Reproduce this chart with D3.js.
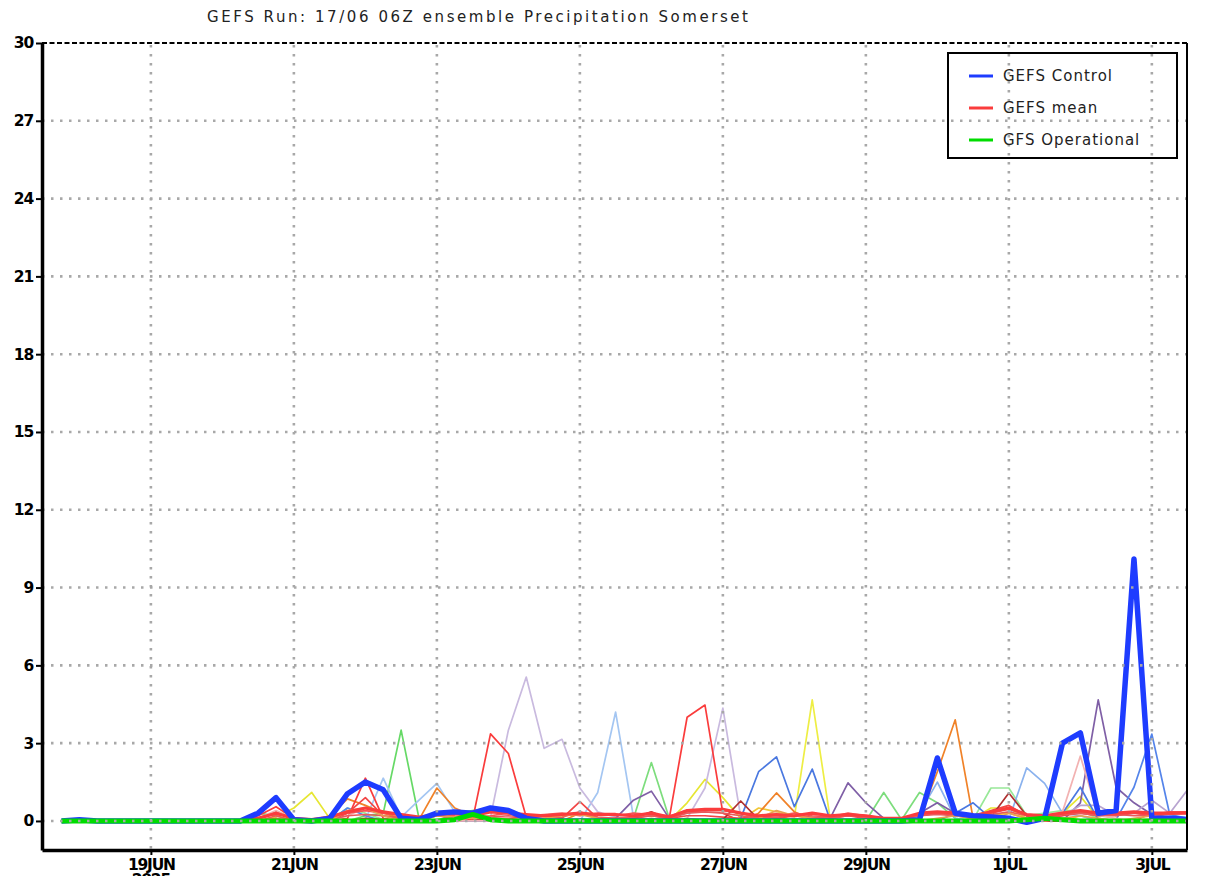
<!DOCTYPE html>
<html>
<head>
<meta charset="utf-8">
<script src="https://cdn.jsdelivr.net/npm/d3@7"></script>
<style>
  body { margin: 0; background: #fff; }
  svg { display: block; }
</style>
</head>
<body>
<div id="main-frame"></div>
<script>
// 6-hourly forecast steps, 17JUN 18Z .. 3JUL 12Z
const times = d3.utcHour.every(6).range(Date.UTC(2025, 5, 17, 18), Date.UTC(2025, 6, 3, 13));

const xTickDates = [
  Date.UTC(2025, 5, 19), Date.UTC(2025, 5, 21), Date.UTC(2025, 5, 23), Date.UTC(2025, 5, 25),
  Date.UTC(2025, 5, 27), Date.UTC(2025, 5, 29), Date.UTC(2025, 6, 1), Date.UTC(2025, 6, 3)
];
const xTickLabels = ["19JUN", "21JUN", "23JUN", "25JUN", "27JUN", "29JUN", "1JUL", "3JUL"];
const yTicks = [0, 3, 6, 9, 12, 15, 18, 21, 24, 27, 30];

const control = [
  0, 0.05, 0, 0, 0, 0, 0, 0,
  0, 0, 0, 0.3, 0.9, 0.05, 0, 0.1,
  1.05, 1.5, 1.2, 0.1, 0.05, 0.3, 0.35, 0.3,
  0.5, 0.4, 0.1, 0, 0, 0, 0, 0,
  0, 0, 0, 0, 0, 0, 0, 0,
  0, 0, 0, 0, 0, 0, 0, 0,
  0.05, 2.43, 0.3, 0.2, 0.15, 0.1, -0.05, 0.1,
  3.0, 3.4, 0.3, 0.4, 10.1, 0.1, 0.1, 0.05
];
const mean = [
  0, 0, 0, 0, 0, 0, 0, 0,
  0, 0, 0.02, 0.1, 0.3, 0.1, 0.05, 0.15,
  0.35, 0.5, 0.35, 0.25, 0.15, 0.25, 0.3, 0.2,
  0.35, 0.3, 0.25, 0.2, 0.25, 0.3, 0.25, 0.25,
  0.2, 0.3, 0.15, 0.4, 0.45, 0.45, 0.3, 0.2,
  0.25, 0.2, 0.3, 0.2, 0.25, 0.2, 0.1, 0.1,
  0.3, 0.35, 0.3, 0.2, 0.35, 0.5, 0.25, 0.2,
  0.3, 0.4, 0.3, 0.3, 0.35, 0.3, 0.3, 0.3
];
const operational = [
  0, 0, 0, 0, 0, 0, 0, 0,
  0, 0, 0, 0, 0, 0, 0, 0,
  0, 0, 0, 0, 0, 0, 0.05, 0.25,
  0.05, 0, 0, 0, 0, 0, 0, 0,
  0, 0, 0, 0, 0, 0, 0, 0,
  0, 0, 0, 0, 0, 0, 0, 0,
  0, 0, 0, 0, 0, 0, 0.05, 0.1,
  0.05, 0, 0, 0, 0, 0, 0, 0
];

// ensemble members
const memberColors = [
  "#e6e632", "#eeee44", "#f0c838", "#66d966", "#7ddd7d", "#98e898", "#a4c6f2",
  "#8ab2ee", "#f08228", "#c9badf", "#7f5fa6", "#b8a4d0", "#4a78e0", "#5484ea",
  "#fa3c3c", "#f24646", "#b03030", "#f2b2b2", "#f65252", "#e85a5a", "#e8a050"
];
const members = [
  [0, 0, 0, 0, 0, 0, 0, 0,
   0, 0, 0, 0, 0.15, 0.5, 1.1, 0.1,
   0, 0, 0, 0, 0, 0.05, 0.1, 0.2,
   0.05, 0, 0, 0, 0, 0, 0, 0,
   0, 0, 0, 0.7, 1.6, 0.9, 0.1, 0,
   0, 0, 0, 0, 0, 0, 0, 0,
   0, 0, 0, 0.1, 0.5, 0.5, 0.1, 0,
   0.3, 0.95, 0.1, 0, 0, 0, 0, 0],
  [0, 0, 0, 0, 0, 0, 0, 0,
   0, 0, 0, 0, 0, 0, 0, 0,
   0, 0, 0, 0, 0, 0, 0, 0,
   0, 0, 0, 0, 0, 0, 0, 0,
   0, 0, 0, 0, 0, 0, 0, 0.05,
   0.1, 0.15, 4.67, 0.1, 0, 0, 0, 0,
   0, 0, 0, 0, 0, 0, 0, 0,
   0, 0, 0, 0, 0, 0, 0, 0],
  [0, 0, 0, 0, 0, 0, 0, 0,
   0, 0, 0, 0, 0, 0, 0, 0,
   0, 0, 0, 0, 0, 0, 0, 0,
   0, 0, 0, 0, 0, 0, 0, 0,
   0, 0, 0, 0, 0, 0, 0.05, 0.5,
   0.35, 0.1, 0, 0, 0, 0, 0, 0,
   0, 0, 0, 0, 0.2, 0.3, 0.1, 0,
   0, 0.2, 0, 0, 0, 0, 0, 0],
  [0, 0, 0, 0, 0, 0, 0, 0,
   0, 0, 0, 0.3, 0.2, 0, 0, 0,
   0, 0.2, 0.3, 3.5, 0.1, 0, 0.3, 0.4,
   0.5, 0.3, 0.05, 0, 0, 0, 0, 0,
   0, 0, 0, 0, 0, 0, 0, 0,
   0, 0, 0, 0, 0, 0, 0, 0,
   0, 0, 0, 0, 0, 0, 0, 0,
   0, 0, 0, 0, 0, 0, 0, 0],
  [0, 0, 0, 0, 0, 0, 0, 0,
   0, 0, 0, 0, 0, 0, 0, 0,
   0, 0, 0, 0, 0, 0, 0, 0,
   0, 0, 0, 0, 0, 0, 0, 0,
   0.1, 2.25, 0.1, 0, 0, 0, 0, 0,
   0, 0, 0, 0, 0, 0, 1.1, 0.05,
   1.1, 0.7, 0.1, 0, 0, 0, 0, 0,
   0, 0, 0, 0, 0, 0, 0, 0],
  [0, 0, 0, 0, 0, 0, 0, 0,
   0, 0, 0, 0, 0, 0, 0, 0,
   0.5, 0.3, 0.05, 0, 0, 0, 0, 0,
   0, 0, 0, 0, 0, 0, 0, 0,
   0, 0, 0, 0, 0, 0, 0, 0,
   0, 0, 0, 0, 0, 0, 0, 0,
   0, 0, 0, 0.05, 1.27, 1.27, 0.2, 0.3,
   0.4, 0.4, 0.1, 0, 0, 0, 0, 0],
  [0, 0, 0, 0, 0, 0, 0, 0,
   0, 0, 0, 0, 0, 0, 0, 0,
   0, 0.05, 1.65, 0.15, 0.8, 1.45, 0.35, 0.1,
   0, 0, 0, 0, 0, 0, 1.1, 4.2,
   0.15, 0, 0, 0, 0, 0, 0, 0,
   0, 0, 0, 0, 0, 0, 0, 0,
   0, 0, 0, 0, 0, 0, 0, 0,
   0, 0, 0, 0, 0, 0, 0, 0],
  [0, 0, 0, 0, 0, 0, 0, 0,
   0, 0, 0, 0, 0, 0, 0, 0,
   0, 0, 0, 0, 0, 0, 0, 0,
   0, 0, 0, 0, 0, 0, 0, 0,
   0, 0, 0, 0, 0, 0, 0, 0,
   0, 0, 0, 0, 0, 0, 0, 0,
   0.3, 1.5, 0.1, 0, 0, 0.05, 2.05, 1.45,
   0.3, 0.2, 0, 0, 0, 0, 0, 0],
  [0, 0, 0, 0, 0, 0, 0, 0,
   0, 0, 0, 0, 0, 0, 0, 0.2,
   0.85, 0.6, 0.3, 0.1, 0.05, 1.27, 0.5, 0.2,
   0.05, 0, 0, 0, 0, 0.3, 0.1, 0,
   0, 0, 0, 0, 0, 0, 0, 0.3,
   1.08, 0.35, 0.05, 0, 0, 0, 0, 0,
   0.1, 1.9, 3.9, 0.1, 0, 0, 0, 0,
   0, 0, 0, 0, 0, 0.3, 0.1, 0],
  [0, 0, 0, 0, 0, 0, 0, 0,
   0, 0, 0, 0, 0, 0, 0, 0,
   0, 0, 0, 0, 0, 0, 0, 0,
   0.15, 3.5, 5.55, 2.8, 3.15, 1.27, 0.35, 0.15,
   0.1, 0, 0, 0.1, 1.27, 4.35, 0.15, 0,
   0, 0, 0, 0, 0, 0, 0, 0,
   0, 0, 0, 0, 0, 0, 0, 0,
   0, 0, 0, 0, 0, 0, 0, 0],
  [0, 0, 0, 0, 0, 0, 0, 0,
   0, 0, 0, 0, 0, 0, 0, 0,
   0, 0, 0, 0, 0, 0, 0, 0,
   0, 0, 0, 0, 0, 0, 0, 0.1,
   0.8, 1.15, 0.1, 0, 0, 0, 0, 0,
   0, 0, 0, 0.1, 1.47, 0.7, 0.1, 0,
   0.3, 0.7, 0.3, 0.1, 0, 0, 0, 0,
   0, 0.7, 4.67, 1.3, 0.7, 0.25, 0.1, 0],
  [0, 0, 0, 0, 0, 0, 0, 0,
   0, 0, 0, 0, 0, 0, 0, 0,
   0, 0, 0, 0, 0, 0, 0, 0,
   0, 0, 0, 0, 0, 0, 0, 0,
   0, 0, 0, 0, 0, 0, 0, 0,
   0, 0, 0, 0, 0, 0, 0, 0,
   0, 0, 0, 0, 0, 0, 0, 0,
   0.2, 0.6, 0.6, 0.2, 0.3, 0.8, 0.3, 1.2],
  [0, 0, 0, 0, 0, 0, 0, 0,
   0, 0, 0, 0, 0, 0, 0, 0,
   0, 0, 0, 0, 0, 0, 0, 0,
   0, 0, 0, 0, 0, 0, 0, 0,
   0, 0, 0, 0, 0, 0, 0.1, 1.9,
   2.47, 0.55, 2.0, 0.05, 0, 0, 0, 0,
   0, 0, 0.3, 0.7, 0.1, 0, 0, 0,
   0.3, 1.3, 0.05, 0, 0, 0, 0, 0],
  [0, 0, 0, 0, 0, 0, 0, 0,
   0, 0, 0, 0, 0, 0, 0, 0,
   0.5, 0.2, 0, 0, 0, 0, 0, 0,
   0, 0, 0, 0, 0, 0, 0, 0,
   0, 0, 0, 0, 0, 0, 0, 0,
   0, 0, 0, 0, 0, 0, 0, 0,
   0, 0, 0, 0, 0, 0, 0, 0,
   0, 0, 0, 0.05, 1.3, 3.35, 0.25, 0.1],
  [0, 0, 0, 0, 0, 0, 0, 0,
   0, 0, 0, 0.2, 0.55, 0.1, 0, 0,
   0.1, 1.65, 0.1, 0, 0, 0, 0, 0.05,
   3.36, 2.6, 0.15, 0, 0, 0, 0, 0,
   0, 0, 0.1, 4.0, 4.47, 0.3, 0, 0,
   0, 0, 0, 0, 0, 0, 0, 0,
   0, 0, 0, 0, 0, 0, 0, 0,
   0, 0, 0, 0, 0, 0, 0, 0],
  [0, 0, 0, 0, 0, 0, 0, 0,
   0, 0, 0, 0.1, 0.35, 0.05, 0, 0,
   0.3, 0.9, 0.2, 0.1, 0.1, 0.2, 0.15, 0.1,
   0.1, 0.1, 0.15, 0.2, 0.1, 0.75, 0.1, 0.1,
   0.1, 0.2, 0.1, 0.2, 0.2, 0.15, 0.1, 0.2,
   0.1, 0.2, 0.1, 0.1, 0.2, 0.1, 0.1, 0.1,
   0.2, 0.3, 0.2, 0.1, 0.4, 0.6, 0.2, 0.1,
   0.2, 0.3, 0.2, 0.2, 0.3, 0.2, 0.3, 0.3],
  [0, 0, 0, 0, 0, 0, 0, 0,
   0, 0, 0, 0, 0, 0, 0, 0,
   0, 0.1, 0.05, 0, 0, 0.2, 0.3, 0.1,
   0, 0, 0, 0, 0, 0, 0, 0,
   0.1, 0.35, 0.05, 0, 0, 0.05, 0.77, 0.05,
   0, 0, 0, 0, 0, 0, 0, 0,
   0, 0, 0, 0, 0.15, 1.08, 0.2, 0,
   0, 0, 0, 0, 0, 0, 0, 0],
  [0, 0, 0, 0, 0, 0, 0, 0,
   0, 0, 0, 0.1, 0.4, 0.1, 0, 0,
   0.2, 0.5, 0.2, 0, 0, 0, 0, 0,
   0, 0, 0, 0, 0, 0, 0, 0,
   0, 0, 0, 0, 0, 0, 0, 0.2,
   0.3, 0.1, 0, 0, 0, 0, 0, 0,
   0, 0, 0, 0, 0, 0, 0, 0.2,
   0.35, 2.5, 0.2, 0.1, 0, 0.1, 0, 0],
  [0, 0, 0, 0, 0, 0, 0, 0,
   0, 0, 0, 0, 0.2, 0, 0, 0.1,
   0.3, 0.4, 0.3, 0.2, 0.1, 0.3, 0.2, 0.15,
   0.2, 0.3, 0.2, 0.25, 0.3, 0.2, 0.3, 0.2,
   0.3, 0.25, 0.2, 0.35, 0.4, 0.4, 0.3, 0.15,
   0.2, 0.3, 0.2, 0.15, 0.3, 0.2, 0.1, 0.05,
   0.25, 0.3, 0.35, 0.2, 0.3, 0.45, 0.25, 0.15,
   0.3, 0.35, 0.25, 0.3, 0.3, 0.25, 0.35, 0.35],
  [0, 0, 0, 0, 0, 0, 0, 0,
   0, 0, 0, 0, 0.1, 0, 0, 0.05,
   0.2, 0.25, 0.2, 0.1, 0.15, 0.2, 0.1, 0.2,
   0.15, 0.2, 0.15, 0.1, 0.15, 0.35, 0.15, 0.1,
   0.15, 0.2, 0.1, 0.3, 0.35, 0.3, 0.2, 0.1,
   0.15, 0.2, 0.15, 0.1, 0.2, 0.15, 0.05, 0.05,
   0.2, 0.25, 0.2, 0.15, 0.25, 0.35, 0.2, 0.1,
   0.25, 0.3, 0.2, 0.25, 0.2, 0.2, 0.25, 0.3],
  [0, 0, 0, 0, 0, 0, 0, 0,
   0, 0, 0, 0, 0, 0, 0, 0,
   0.4, 0.5, 0.2, 0, 0, 0.2, 0.15, 0.1,
   0.1, 0.05, 0, 0.1, 0.2, 0.25, 0.1, 0,
   0, 0.1, 0, 0.1, 0, 0, 0, 0.1,
   0.4, 0.2, 0.1, 0, 0, 0, 0, 0,
   0, 0.1, 0.2, 0.1, 0, 0.3, 0.1, 0,
   0.1, 0.2, 0.1, 0, 0.1, 0.2, 0.1, 0]
];

const legendNames = ["GEFS Control", "GEFS mean", "GFS Operational"];
const legendColors = ["#1e3cff", "#fa3c3c", "#00dc00"];

const W = 1222, H = 876;
const plot = { left: 42, right: 1187, top: 43, bottom: 850 };

const svg = d3.select("#main-frame")
  .append("svg")
  .attr("width", W)
  .attr("height", H);

const x = d3.scaleUtc()
  .domain([Date.UTC(2025, 5, 17, 11, 27), Date.UTC(2025, 6, 3, 11, 48)])
  .range([plot.left, plot.right]);
const y = d3.scaleLinear()
  .domain([-1.12, 30])
  .range([plot.bottom, plot.top]);

svg.append("defs").append("clipPath").attr("id", "plot-clip")
  .append("rect")
  .attr("x", plot.left).attr("y", plot.top)
  .attr("width", plot.right - plot.left).attr("height", plot.bottom - plot.top);

const line = d3.line()
  .x((d, i) => x(times[i]))
  .y((d) => y(d));

const lines = svg.append("g").attr("clip-path", "url(#plot-clip)");

lines.selectAll("path.member")
  .data(members)
  .enter()
  .append("path")
  .attr("class", "member")
  .attr("d", line)
  .attr("fill", "none")
  .attr("stroke", (d, i) => memberColors[i])
  .attr("stroke-width", 1.7)
  .attr("stroke-linejoin", "round");

lines.append("path").attr("d", line(mean))
  .attr("fill", "none").attr("stroke", legendColors[1]).attr("stroke-width", 3.2)
  .attr("stroke-linejoin", "round");
lines.append("path").attr("d", line(control))
  .attr("fill", "none").attr("stroke", legendColors[0]).attr("stroke-width", 5.5)
  .attr("stroke-linejoin", "round");
lines.append("path").attr("d", line(operational))
  .attr("fill", "none").attr("stroke", legendColors[2]).attr("stroke-width", 5)
  .attr("stroke-linejoin", "round");

// dotted grid, drawn over the lines as in the original
const grid = svg.append("g").attr("stroke", "#a8a8a8").attr("stroke-width", 2.6)
  .attr("stroke-dasharray", "2.5,6.5");
grid.selectAll("line.vgrid")
  .data(xTickDates)
  .enter()
  .append("line")
  .attr("x1", (d) => x(d)).attr("x2", (d) => x(d))
  .attr("y1", plot.top + 2).attr("y2", plot.bottom);
grid.selectAll("line.hgrid")
  .data(yTicks.slice(0, -1))
  .enter()
  .append("line")
  .attr("x1", plot.left).attr("x2", plot.right)
  .attr("y1", (d) => y(d)).attr("y2", (d) => y(d));

// frame
svg.append("line")
  .attr("x1", plot.left).attr("x2", plot.right)
  .attr("y1", plot.top).attr("y2", plot.top)
  .attr("stroke", "#000").attr("stroke-width", 2.2).attr("stroke-dasharray", "5,2.5");
svg.append("line")
  .attr("x1", plot.right).attr("x2", plot.right)
  .attr("y1", plot.top).attr("y2", plot.bottom)
  .attr("stroke", "#000").attr("stroke-width", 2);

const axisFont = (g) => g.selectAll("text")
  .attr("font-family", "'DejaVu Sans', sans-serif")
  .attr("font-weight", "bold")
  .attr("font-size", "15.5px")
  .attr("letter-spacing", "-1.2px")
  .attr("fill", "#000");

svg.append("g")
  .attr("transform", `translate(0, ${plot.bottom})`)
  .call(d3.axisBottom(x).tickValues(xTickDates).tickFormat((d, i) => xTickLabels[i])
    .tickSize(5).tickSizeOuter(0).tickPadding(4))
  .call((g) => g.select(".domain").attr("stroke", "#000").attr("stroke-width", 3.5))
  .call((g) => g.selectAll(".tick line").attr("stroke", "#000").attr("stroke-width", 2))
  .call(axisFont);

svg.append("g")
  .attr("transform", `translate(${plot.left}, 0)`)
  .call(d3.axisLeft(y).tickValues(yTicks).tickSize(6).tickSizeOuter(0).tickPadding(3))
  .call((g) => g.select(".domain").attr("stroke", "#000").attr("stroke-width", 3.5))
  .call((g) => g.selectAll(".tick line").attr("stroke", "#000").attr("stroke-width", 2))
  .call(axisFont);

svg.append("text")
  .attr("x", x(xTickDates[0]))
  .attr("y", 885)
  .attr("text-anchor", "middle")
  .attr("font-family", "'DejaVu Sans', sans-serif")
  .attr("font-weight", "bold")
  .attr("font-size", "15.5px")
  .attr("letter-spacing", "-1.2px")
  .text("2025");

// title
svg.append("text")
  .attr("x", 207)
  .attr("y", 22)
  .attr("textLength", 541)
  .attr("lengthAdjust", "spacing")
  .attr("font-family", "'DejaVu Sans', sans-serif")
  .attr("font-size", "15px")
  .attr("fill", "#222")
  .text("GEFS Run: 17/06 06Z ensemble Precipitation Somerset");

// legend
const legend = svg.append("g").attr("id", "legend").attr("transform", "translate(948, 53)");
legend.append("rect")
  .attr("width", 229).attr("height", 105)
  .attr("fill", "none").attr("stroke", "#000").attr("stroke-width", 2);
legend.selectAll("g")
  .data(legendNames)
  .enter()
  .append("g")
  .attr("transform", (d, i) => `translate(0, ${22 + i * 32})`)
  .each(function (d, i) {
    d3.select(this).append("line")
      .attr("x1", 21).attr("x2", 45).attr("y1", 1).attr("y2", 1)
      .attr("stroke", legendColors[i]).attr("stroke-width", 3);
    d3.select(this).append("text")
      .attr("x", 55).attr("y", 6)
      .attr("font-family", "'DejaVu Sans', sans-serif")
      .attr("font-size", "15px")
      .attr("letter-spacing", "1px")
      .attr("fill", "#222")
      .text(d);
  });
</script>
</body>
</html>
